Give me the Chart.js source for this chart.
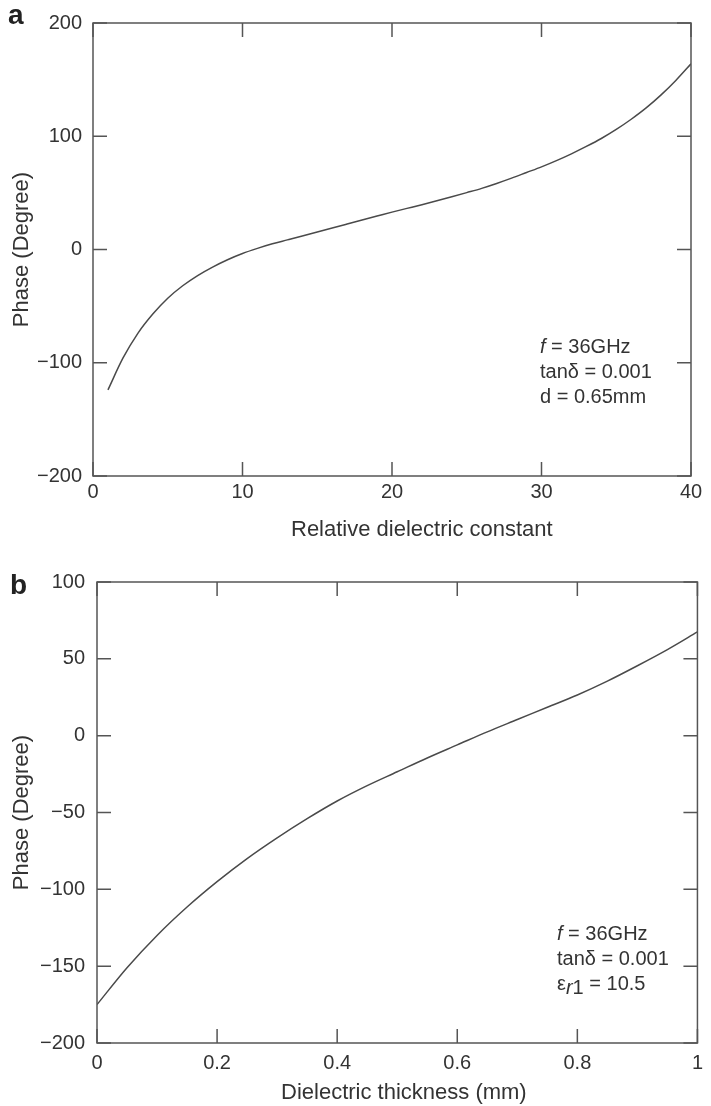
<!DOCTYPE html>
<html>
<head>
<meta charset="utf-8">
<title>Phase vs dielectric parameters</title>
<script src="https://cdn.jsdelivr.net/npm/chart.js@4.4.0/dist/chart.umd.min.js"></script>
<style>
  body { margin: 0; background: #fff; }
  #page { position: relative; width: 711px; height: 1106px; font-family: "Liberation Sans", Arial, sans-serif; color: #333; }
  #page canvas { position: absolute; left: 0; }
  .txt { position: absolute; white-space: nowrap; }
  .panel { font-weight: bold; font-size: 28px; line-height: 28px; color: #222; }
  .xtitle { font-size: 22px; line-height: 22px; }
  .note { font-size: 20px; line-height: 25px; }
  .note i { font-style: italic; }
  .sub { position: relative; top: 4px; }
</style>
</head>
<body>
<div id="page">
  <canvas id="chartA" width="711" height="553" style="top:0"></canvas>
  <canvas id="chartB" width="711" height="553" style="top:553px"></canvas>

  <div class="txt panel" style="left:8px; top:1px">a</div>
  <div class="txt xtitle" style="left:291px; top:518px">Relative dielectric constant</div>
  <div class="txt note" style="left:540px; top:334px"><i>f</i> = 36GHz<br>tanδ = 0.001<br>d = 0.65mm</div>

  <div class="txt panel" style="left:10px; top:571px">b</div>
  <div class="txt xtitle" style="left:281px; top:1081px">Dielectric thickness (mm)</div>
  <div class="txt note" style="left:557px; top:921px"><i>f</i> = 36GHz<br>tanδ = 0.001<br>ε<span class="sub"><i>r</i>1</span> = 10.5</div>
</div>

<script>
// (a) phase against relative dielectric constant, d = 0.65 mm
const epsR = [1, 2, 3, 4, 5, 6, 7, 8, 9, 10, 11, 12, 13, 14, 15, 16, 17, 18, 19, 20,
  21, 22, 23, 24, 25, 26, 27, 28, 29, 30, 31, 32, 33, 34, 35, 36, 37, 38, 39, 40]
const phaseA = [-124, -96, -74, -57, -43, -32, -23, -15.5, -9, -3.5, 1, 5, 8.5, 12, 15.5, 19, 22.5, 26, 29.5, 33,
  36.3, 39.6, 43, 46.5, 50.2, 54, 58.3, 63, 68, 73, 78.5, 84.5, 91, 98, 106, 115, 125, 136.5, 149.5, 164]

// (b) phase against dielectric thickness, er1 = 10.5
const thickness = [0, 0.05, 0.1, 0.15, 0.2, 0.25, 0.3, 0.35, 0.4, 0.45, 0.5,
  0.55, 0.6, 0.65, 0.7, 0.75, 0.8, 0.85, 0.9, 0.95, 1]
const phaseB = [-175, -151, -130, -111.5, -95, -80, -66.5, -54, -42.5, -32.5, -23.5,
  -14.5, -6, 2.5, 10.5, 18.5, 26.5, 35.5, 45.5, 56, 67.5]

const xTicksA = [0, 10, 20, 30, 40]
const yTicksA = [-200, -100, 0, 100, 200]
const xTicksB = [0, 0.2, 0.4, 0.6, 0.8, 1]
const yTicksB = [-200, -150, -100, -50, 0, 50, 100]

const FONT = '"Liberation Sans", Arial, sans-serif'
const INK = '#333'
const LINE = '#4a4a4a'

// frame box with inward ticks on all four sides
const frameTicks = {
  id: 'frameTicks',
  afterDatasetsDraw(chart, args, opts) {
    const { ctx, chartArea: a, scales: { x, y } } = chart
    const len = opts.length
    ctx.save()
    ctx.strokeStyle = opts.color
    ctx.lineWidth = opts.width
    ctx.strokeRect(a.left, a.top, a.right - a.left, a.bottom - a.top)
    ctx.beginPath()
    x.ticks.forEach(t => {
      const px = x.getPixelForValue(t.value)
      ctx.moveTo(px, a.bottom); ctx.lineTo(px, a.bottom - len)
      ctx.moveTo(px, a.top); ctx.lineTo(px, a.top + len)
    })
    y.ticks.forEach(t => {
      const py = y.getPixelForValue(t.value)
      ctx.moveTo(a.left, py); ctx.lineTo(a.left + len, py)
      ctx.moveTo(a.right, py); ctx.lineTo(a.right - len, py)
    })
    ctx.stroke()
    ctx.restore()
  }
}

const minus = v => String(v).replace('-', '\u2212')

function makePanel(id, xs, ys, p) {
  const pts = xs.map((v, i) => ({ x: v, y: ys[i] }))
  return new Chart(document.getElementById(id), {
    type: 'scatter',
    data: {
      datasets: [{
        data: pts,
        showLine: true,
        borderColor: LINE,
        borderWidth: 1.5,
        pointRadius: 0,
        cubicInterpolationMode: 'monotone',
      }],
    },
    options: {
      responsive: false,
      animation: false,
      devicePixelRatio: 1,
      layout: { padding: { top: p.top, right: p.right, left: 0, bottom: 0 } },
      plugins: {
        legend: { display: false },
        tooltip: { enabled: false },
        frameTicks: { length: 14, color: '#555', width: 1.5 },
      },
      scales: {
        x: {
          type: 'linear',
          min: p.xMin, max: p.xMax,
          grid: { display: false, drawTicks: false },
          border: { display: false },
          afterBuildTicks: s => { s.ticks = p.xTicks.map(v => ({ value: v })) },
          afterFit: s => { s.height = p.xHeight },
          ticks: {
            color: INK, padding: p.xPad, maxRotation: 0,
            font: { family: FONT, size: 20 },
            callback: minus,
          },
        },
        y: {
          type: 'linear',
          min: p.yMin, max: p.yMax,
          grid: { display: false, drawTicks: false },
          border: { display: false },
          afterBuildTicks: s => { s.ticks = p.yTicks.map(v => ({ value: v })) },
          afterFit: s => { s.width = p.yWidth },
          ticks: {
            color: INK, padding: p.yPad,
            font: { family: FONT, size: 20 },
            callback: minus,
          },
          title: {
            display: true,
            text: 'Phase (Degree)',
            color: INK,
            font: { family: FONT, size: 22 },
            padding: { top: 9, bottom: 0 },
          },
        },
      },
    },
    plugins: [frameTicks],
  })
}

makePanel('chartA', epsR, phaseA, {
  top: 19, right: 20, xHeight: 77, yWidth: 93, xPad: 4, yPad: 11,
  xMin: 0, xMax: 40, yMin: -200, yMax: 200, xTicks: xTicksA, yTicks: yTicksA,
})

makePanel('chartB', thickness, phaseB, {
  top: 29, right: 9, xHeight: 63, yWidth: 97, xPad: 8, yPad: 12,
  xMin: 0, xMax: 1, yMin: -200, yMax: 100, xTicks: xTicksB, yTicks: yTicksB,
})
</script>
</body>
</html>
